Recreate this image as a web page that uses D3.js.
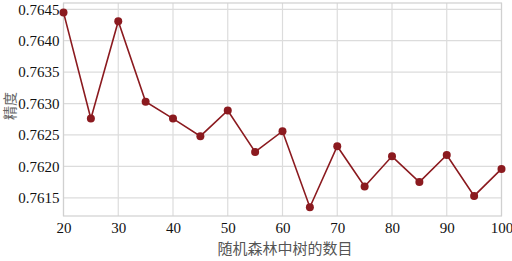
<!DOCTYPE html>
<html><head><meta charset="utf-8">
<script src="https://cdn.jsdelivr.net/npm/d3@7"></script>
<style>body{margin:0;background:#fff}svg{display:block}
.tk text{font-family:"Liberation Serif","Times New Roman",serif;font-size:15px;fill:#111}</style>
</head><body>
<script>
const nTrees = [20,25,30,35,40,45,50,55,60,65,70,75,80,85,90,95,100];
const accuracy = [0.76445,0.76276,0.76431,0.76303,0.76276,0.76248,0.76289,0.76223,0.76256,0.76135,0.76232,0.76168,0.76216,0.76175,0.76218,0.76153,0.76196];
const xTicks = [20,30,40,50,60,70,80,90,100];
const yTicks = [0.7615,0.7620,0.7625,0.7630,0.7635,0.7640,0.7645];
const xLabel = "随机森林中树的数目";
const yLabel = "精度";

const W=512,H=261;
const m={l:63.5,r:10.5,t:3,b:45};
const svg=d3.select("body").append("svg").attr("width",W).attr("height",H);
const x=d3.scaleLinear().domain([20,100]).range([m.l,W-m.r]);
const y=d3.scaleLinear().domain([0.76121,0.76460]).range([H-m.b,m.t]);

// grid
svg.append("g").selectAll("line").data(xTicks).join("line")
  .attr("x1",d=>x(d)).attr("x2",d=>x(d)).attr("y1",m.t).attr("y2",H-m.b)
  .attr("stroke","#dcdcdc").attr("stroke-width",1.2);
svg.append("g").selectAll("line").data(yTicks).join("line")
  .attr("y1",d=>y(d)).attr("y2",d=>y(d)).attr("x1",m.l).attr("x2",W-m.r)
  .attr("stroke","#dcdcdc").attr("stroke-width",1.2);
// frame
svg.append("rect").attr("x",m.l).attr("y",m.t).attr("width",W-m.r-m.l).attr("height",H-m.b-m.t)
  .attr("fill","none").attr("stroke","#d0d0d0").attr("stroke-width",1.2);

const xa=svg.append("g").attr("class","tk").attr("transform",`translate(0,${H-m.b})`)
  .call(d3.axisBottom(x).tickValues(xTicks).tickSize(0).tickPadding(6).tickFormat(d3.format("d")));
const ya=svg.append("g").attr("class","tk").attr("transform",`translate(${m.l},0)`)
  .call(d3.axisLeft(y).tickValues(yTicks).tickSize(0).tickPadding(4).tickFormat(d3.format(".4f")));
[xa,ya].forEach(a=>{a.select(".domain").remove();a.attr("font-family",null).attr("font-size",null);});

// line
svg.append("path").datum(nTrees.map((n,i)=>[n,accuracy[i]]))
  .attr("d",d3.line().x(d=>x(d[0])).y(d=>y(d[1])))
  .attr("fill","none").attr("stroke","#8b1a1f").attr("stroke-width",1.6);
svg.append("g").selectAll("circle").data(nTrees).join("circle")
  .attr("cx",d=>x(d)).attr("cy",(d,i)=>y(accuracy[i])).attr("r",4)
  .attr("fill","#8b1a1f");

svg.append("text").attr("x",285).attr("y",254).attr("text-anchor","middle")
  .style("font-family","'Noto Sans CJK SC',sans-serif").style("font-size","15px").attr("fill","#555").text(xLabel);
svg.append("text").attr("transform",`translate(15,106) rotate(-90)`).attr("text-anchor","middle")
  .style("font-family","'Noto Sans CJK SC',sans-serif").style("font-size","14px").attr("fill","#666").text(yLabel);
</script>
</body></html>
